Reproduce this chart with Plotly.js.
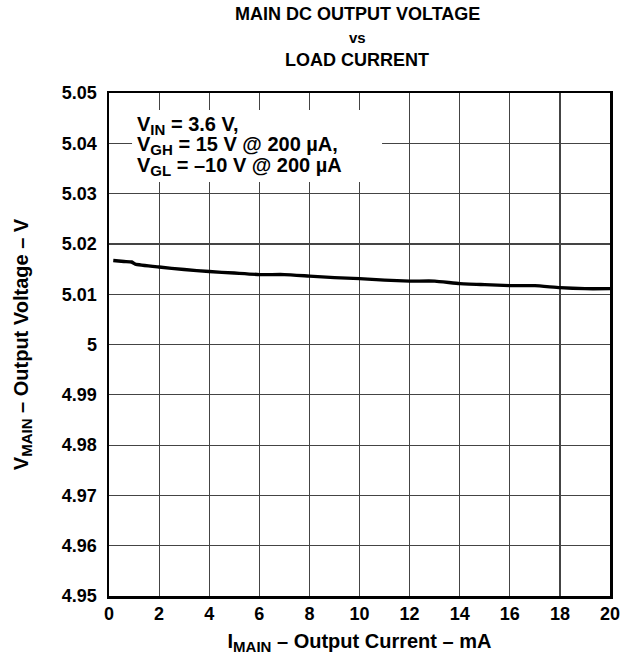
<!DOCTYPE html>
<html>
<head>
<meta charset="utf-8">
<script src="https://cdn.plot.ly/plotly-3.0.1.min.js"></script>
<style>html,body{margin:0;padding:0;background:#fff;}#chart{width:635px;height:658px;}</style>
</head>
<body>
<div id="chart"></div>
<script>
// Data
const currentMA = [0.17, 0.6, 0.9, 1.05, 2, 3, 4, 5, 6, 7, 8, 9, 10, 11, 12, 13, 14, 15, 16, 17, 18, 19, 20];
const voltageV  = [5.0167, 5.0165, 5.0164, 5.0160, 5.0154, 5.0149, 5.0145, 5.0142, 5.0139, 5.0139, 5.0136, 5.0133, 5.0131, 5.0128, 5.0126, 5.0126, 5.0121, 5.0119, 5.0117, 5.0117, 5.0113, 5.0111, 5.0111];
const xTickVals = [0, 2, 4, 6, 8, 10, 12, 14, 16, 18, 20];
const xTickText = ['0', '2', '4', '6', '8', '10', '12', '14', '16', '18', '20'];
const yTickVals = [4.95, 4.96, 4.97, 4.98, 4.99, 5.00, 5.01, 5.02, 5.03, 5.04, 5.05];
const yTickText = ['4.95', '4.96', '4.97', '4.98', '4.99', '5', '5.01', '5.02', '5.03', '5.04', '5.05'];
const titleLines = ['MAIN DC OUTPUT VOLTAGE', 'vs', 'LOAD CURRENT'];
const sub = (t) => '<sub><span style="font-size:15px">' + t + '</span></sub>';
const xTitle = 'I' + sub('MAIN') + ' – Output Current – mA';
const yTitle = 'V' + sub('MAIN') + ' – Output Voltage – V';
const noteLines = ['V' + sub('IN') + ' = 3.6 V,', 'V' + sub('GH') + ' = 15 V @ 200 µA,', 'V' + sub('GL') + ' = –10 V @ 200 µA'];

const FONT = 'Liberation Sans, Arial, sans-serif';
const bold = (size) => ({family: FONT, size: size, color: '#000', weight: 700});

const trace = {
  x: currentMA, y: voltageV, type: 'scatter', mode: 'lines',
  line: {color: '#000', width: 3.4, shape: 'spline', smoothing: 0.4},
  hoverinfo: 'skip', showlegend: false
};

// layout positions (paper coords)
const titleY = [1.158, 1.110, 1.066];
const titleSize = [18, 15, 18];
const noteY = [0.936, 0.895, 0.853];

const annotations = [];
titleLines.forEach((t, i) => annotations.push({
  xref: 'paper', yref: 'paper', x: 0.496, y: titleY[i], xanchor: 'center', yanchor: 'middle',
  text: t, showarrow: false, borderpad: 0, font: bold(titleSize[i])
}));
noteLines.forEach((t, i) => annotations.push({
  xref: 'paper', yref: 'paper', x: 0.054, y: noteY[i], xanchor: 'left', yanchor: 'middle',
  text: t, showarrow: false, align: 'left', borderpad: 0, font: bold(20)
}));

const layout = {
  width: 635, height: 658,
  margin: {l: 109, r: 25, t: 93, b: 62},
  paper_bgcolor: '#fff', plot_bgcolor: '#fff',
  font: bold(18),
  xaxis: {
    range: [0, 20], tickvals: xTickVals, ticktext: xTickText,
    showgrid: true, gridcolor: '#444', gridwidth: 1.2,
    showline: true, linecolor: '#000', linewidth: 2.5, mirror: true,
    ticks: '', zeroline: false, fixedrange: true,
    tickfont: bold(18),
    title: {text: xTitle, standoff: 11, font: bold(20)}
  },
  yaxis: {
    range: [4.95, 5.05], tickvals: yTickVals, ticktext: yTickText,
    showgrid: true, gridcolor: '#444', gridwidth: 1.2,
    showline: true, linecolor: '#000', linewidth: 2.5, mirror: true,
    ticks: '', zeroline: false, fixedrange: true, ticklabelstandoff: 6,
    tickfont: bold(18),
    title: {text: yTitle, standoff: 28, font: bold(20)}
  },
  shapes: [{
    type: 'rect', xref: 'paper', yref: 'paper', layer: 'above',
    x0: 0.046, x1: 0.545, y0: 0.823, y1: 0.966,
    fillcolor: '#fff', line: {width: 0}
  }],
  annotations: annotations
};

Plotly.newPlot('chart', [trace], layout, {displayModeBar: false, staticPlot: true});
</script>
</body>
</html>
